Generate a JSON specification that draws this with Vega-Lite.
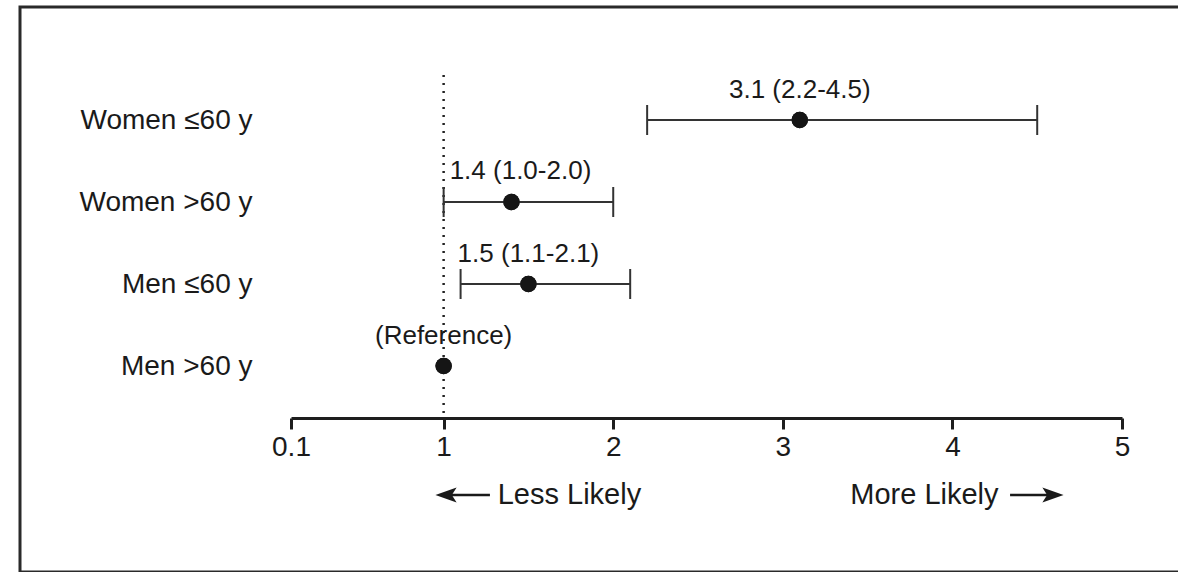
{
  "$schema": "https://vega.github.io/schema/vega-lite/v6.json",
  "width": 1175,
  "height": 565,
  "autosize": {"type": "none"},
  "padding": {"left": 20, "top": 7, "right": 0, "bottom": 0},
  "background": "white",
  "config": {
    "font": "Liberation Sans",
    "view": {"stroke": "#2a2a2a", "strokeWidth": 3}
  },
  "datasets": {
    "rows": [
      {"group": "Women ≤60 y", "or": 3.1, "lo": 2.2, "hi": 4.5, "label": "3.1 (2.2-4.5)"},
      {"group": "Women >60 y", "or": 1.4, "lo": 1.0, "hi": 2.0, "label": "1.4 (1.0-2.0)"},
      {"group": "Men ≤60 y", "or": 1.5, "lo": 1.1, "hi": 2.1, "label": "1.5 (1.1-2.1)"},
      {"group": "Men >60 y", "or": 1.0, "lo": null, "hi": null, "label": "(Reference)"}
    ],
    "refline": [
      {"x": 1, "top": "Women ≤60 y", "bottom": "Men >60 y"}
    ],
    "notes": [
      {"text": "Less Likely", "x": 1.742},
      {"text": "More Likely", "x": 3.835}
    ],
    "arrows": [
      {"dir": "left", "from": 1.014, "to": 1.273, "head": 1.014},
      {"dir": "right", "from": 4.34, "to": 4.593, "head": 4.593}
    ]
  },
  "layer": [
    {
      "data": {"name": "rows"},
      "mark": {"type": "circle", "size": 270, "color": "#151515", "opacity": 1},
      "encoding": {
        "x": {
          "field": "or", "type": "quantitative",
          "scale": {"domain": [0.1, 5], "range": [271, 1102], "zero": false, "nice": false},
          "axis": {
            "values": [0.1, 1, 2, 3, 4, 5],
            "labelExpr": "datum.value + ''",
            "offset": -154,
            "domainWidth": 3, "domainColor": "#1e1e1e",
            "tickSize": 11, "tickWidth": 3, "tickColor": "#1e1e1e",
            "labelFontSize": 28, "labelColor": "#1a1a1a", "labelPadding": 4,
            "labelFlush": false, "labelOverlap": false,
            "grid": false, "title": null
          }
        },
        "y": {
          "field": "group", "type": "nominal", "sort": null,
          "scale": {"type": "point", "padding": 0, "domain": ["Women ≤60 y", "Women >60 y", "Men ≤60 y", "Men >60 y"], "range": [113, 359]},
          "axis": {
            "domain": false, "ticks": false, "tickSize": 0,
            "offset": -240, "labelPadding": 8, "labelLimit": 400,
            "labelFontSize": 28, "labelColor": "#1a1a1a",
            "grid": false, "title": null
          }
        }
      }
    },
    {
      "data": {"name": "refline"},
      "mark": {"type": "rule", "strokeDash": [2, 6], "strokeWidth": 2.5, "color": "#222222", "yOffset": -45, "y2Offset": 52},
      "encoding": {
        "x": {"field": "x", "type": "quantitative", "title": null},
        "y": {"field": "top", "type": "nominal", "title": null},
        "y2": {"field": "bottom"}
      }
    },
    {
      "data": {"name": "rows"},
      "transform": [{"filter": "datum.lo != null"}],
      "mark": {"type": "rule", "strokeWidth": 2, "color": "#333333"},
      "encoding": {
        "x": {"field": "lo", "type": "quantitative", "title": null},
        "x2": {"field": "hi"},
        "y": {"field": "group", "type": "nominal", "title": null}
      }
    },
    {
      "data": {"name": "rows"},
      "transform": [{"filter": "datum.lo != null"}, {"fold": ["lo", "hi"], "as": ["end", "val"]}],
      "mark": {"type": "tick", "orient": "vertical", "size": 30, "thickness": 2, "color": "#333333", "opacity": 1},
      "encoding": {
        "x": {"field": "val", "type": "quantitative", "title": null},
        "y": {"field": "group", "type": "nominal", "title": null}
      }
    },
    {
      "data": {"name": "rows"},
      "mark": {"type": "circle", "size": 270, "color": "#151515", "opacity": 1},
      "encoding": {
        "x": {"field": "or", "type": "quantitative", "title": null},
        "y": {"field": "group", "type": "nominal", "title": null}
      }
    },
    {
      "data": {"name": "rows"},
      "transform": [{"filter": "datum.group != 'Women >60 y'"}],
      "mark": {"type": "text", "fontSize": 26, "color": "#1a1a1a", "baseline": "alphabetic", "align": "center", "dy": -22},
      "encoding": {
        "x": {"field": "or", "type": "quantitative", "title": null},
        "y": {"field": "group", "type": "nominal", "title": null},
        "text": {"field": "label"}
      }
    },
    {
      "data": {"name": "rows"},
      "transform": [{"filter": "datum.group == 'Women >60 y'"}],
      "mark": {"type": "text", "fontSize": 26, "color": "#1a1a1a", "baseline": "alphabetic", "align": "center", "dy": -23, "dx": 9},
      "encoding": {
        "x": {"field": "or", "type": "quantitative", "title": null},
        "y": {"field": "group", "type": "nominal", "title": null},
        "text": {"field": "label"}
      }
    },
    {
      "data": {"name": "notes"},
      "mark": {"type": "text", "fontSize": 29, "color": "#1a1a1a", "baseline": "alphabetic", "align": "center", "dy": 138},
      "encoding": {
        "x": {"field": "x", "type": "quantitative", "title": null},
        "y": {"datum": "Men >60 y", "type": "nominal", "title": null},
        "text": {"field": "text"}
      }
    },
    {
      "data": {"name": "arrows"},
      "mark": {"type": "rule", "strokeWidth": 2.5, "color": "#1a1a1a", "yOffset": 129, "y2Offset": 129},
      "encoding": {
        "x": {"field": "from", "type": "quantitative", "title": null},
        "x2": {"field": "to"},
        "y": {"datum": "Men >60 y", "type": "nominal", "title": null}
      }
    },
    {
      "data": {"name": "arrows"},
      "mark": {"type": "point", "filled": true, "size": 450, "color": "#1a1a1a", "opacity": 1, "strokeWidth": 0, "yOffset": 129},
      "encoding": {
        "x": {"field": "head", "type": "quantitative", "title": null},
        "y": {"datum": "Men >60 y", "type": "nominal", "title": null},
        "shape": {
          "field": "dir", "type": "nominal",
          "scale": {"domain": ["left", "right"], "range": ["M-1,0L1,-0.7L0.55,0L1,0.7Z", "M1,0L-1,-0.7L-0.55,0L-1,0.7Z"]},
          "legend": null
        }
      }
    }
  ]
}
